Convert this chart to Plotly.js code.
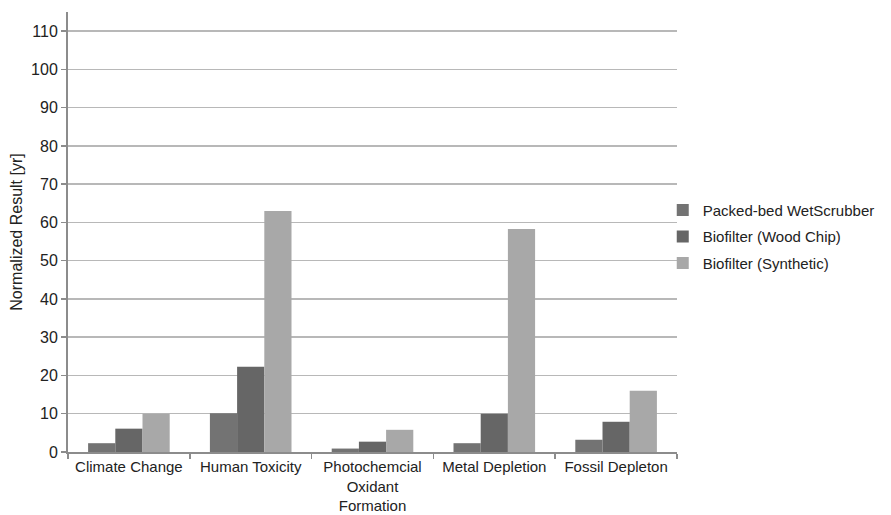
<!DOCTYPE html>
<html>
<head>
<meta charset="utf-8">
<script src="https://cdn.plot.ly/plotly-3.0.1.min.js"></script>
<style>html,body{margin:0;padding:0;background:#fff;}#chart{width:891px;height:515px;}</style>
</head>
<body>
<div id="chart"></div>
<script>
const categories = ["Climate Change", "Human Toxicity", "Photochemcial<br>Oxidant<br>Formation", "Metal Depletion", "Fossil Depleton"];
const seriesNames = ["Packed-bed WetScrubber", "Biofilter (Wood Chip)", "Biofilter (Synthetic)"];
const packedBed = [2.3, 10.1, 0.9, 2.3, 3.2];
const woodChip = [6.1, 22.3, 2.7, 10.0, 7.9];
const synthetic = [10.0, 63.0, 5.8, 58.3, 16.0];
const colors = ["#737373", "#666666", "#a8a8a8"];

const values = [packedBed, woodChip, synthetic];
const traces = values.map((v, i) => ({
  type: "bar",
  name: seriesNames[i],
  legendgroup: "g" + i,
  x: categories,
  y: v,
  marker: {color: colors[i], line: {width: 0}},
  hoverinfo: "none"
}));

const layout = {
  width: 891, height: 515,
  margin: {l: 68, r: 213, t: 12, b: 63},
  paper_bgcolor: "#fff", plot_bgcolor: "#fff",
  font: {family: "Liberation Sans, Arial, sans-serif", size: 16, color: "#222"},
  barmode: "group",
  bargap: 0.33,
  bargroupgap: 0,
  showlegend: true,
  legend: {x: 0.975, xanchor: "left", y: 0.489, yanchor: "middle", font: {size: 15, color: "#222"}, itemwidth: 30, tracegroupgap: 4, bgcolor: "rgba(0,0,0,0)"},
  xaxis: {
    type: "category",
    showline: true, linecolor: "#8c8c8c", linewidth: 2,
    ticks: "outside", tickson: "boundaries", ticklen: 5, tickcolor: "#8c8c8c", tickwidth: 1.5,
    tickangle: 0, automargin: false,
    showgrid: false, tickfont: {size: 15, color: "#222"}
  },
  yaxis: {
    range: [0, 115], tickvals: [0,10,20,30,40,50,60,70,80,90,100,110],
    showline: true, linecolor: "#8c8c8c", linewidth: 2,
    ticks: "outside", ticklen: 5, tickcolor: "#8c8c8c", tickwidth: 1.5,
    showgrid: true, gridcolor: "#b8b8b8", gridwidth: 1.5,
    zeroline: false, automargin: false,
    tickfont: {size: 16, color: "#222"},
    title: {text: "Normalized Result [yr]", font: {size: 16, color: "#222"}, standoff: 4}
  }
};

Plotly.newPlot("chart", traces, layout, {displayModeBar: false, staticPlot: true});
</script>
</body>
</html>
